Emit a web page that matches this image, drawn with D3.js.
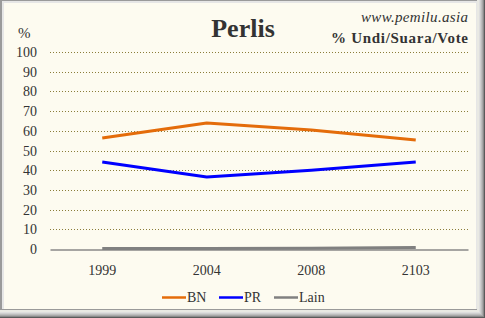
<!DOCTYPE html>
<html>
<head>
<meta charset="utf-8">
<script src="https://cdnjs.cloudflare.com/ajax/libs/d3/7.8.5/d3.min.js"></script>
<style>
  body { margin: 0; background: #ffffff; }
  svg { display: block; font-family: "Liberation Serif", "DejaVu Serif", serif; }
</style>
</head>
<body>
<script>
// chart data
const years = ["1999", "2004", "2008", "2103"];
const bnValues = [56.3, 64.0, 60.4, 55.3];
const prValues = [44.2, 36.6, 40.0, 44.2];
const lainValues = [0.3, 0.3, 0.4, 0.8];
const yTicks = [0, 10, 20, 30, 40, 50, 60, 70, 80, 90, 100];
const seriesNames = ["BN", "PR", "Lain"];
const seriesColors = ["#E46C0A", "#0000FF", "#808080"];

const W = 485, H = 318;
const margin = {top: 52, right: 17, bottom: 69, left: 50};
const width = W - margin.left - margin.right;
const height = H - margin.top - margin.bottom;

const svg = d3.select("body").append("svg")
  .attr("width", W)
  .attr("height", H);

// frame with bevel / shadow
svg.append("rect").attr("x", 0).attr("y", 0).attr("width", W).attr("height", H).attr("fill", "#f4f4f4");
const shadow = [["#5a5a5a", 0], ["#8a8a8a", 1], ["#a8a8a8", 2], ["#bdbdbd", 3], ["#cfcfcf", 4], ["#dedede", 5], ["#e9e9e3", 6]];
for (const [c, i] of shadow) {
  svg.append("rect")
    .attr("x", 0).attr("y", 0)
    .attr("width", W - i).attr("height", H - i)
    .attr("fill", c);
}
svg.append("rect").attr("x", 0).attr("y", 0).attr("width", W - 8).attr("height", H - 8).attr("fill", "#9a9a9a");
svg.append("rect").attr("x", 2).attr("y", 1).attr("width", W - 10).attr("height", H - 10).attr("fill", "#e6e6e6");
svg.append("rect").attr("x", 4).attr("y", 3).attr("width", W - 13).attr("height", H - 12).attr("fill", "#FDFBF0");

const g = svg.append("g")
  .attr("transform", "translate(" + margin.left + "," + margin.top + ")");

const x = d3.scaleBand().domain(years).range([0, width]);
const y = d3.scaleLinear().domain([0, 100]).range([height, 0]);

// grid lines
g.selectAll(".grid")
  .data(yTicks.filter(d => d > 0))
  .enter().append("line")
  .attr("x1", 0).attr("x2", width)
  .attr("y1", d => Math.round(y(d)) + 0.5).attr("y2", d => Math.round(y(d)) + 0.5)
  .attr("stroke", "#8B7D3A")
  .attr("stroke-width", 1)
  .attr("stroke-dasharray", "1,2");

// y tick labels
g.selectAll(".ylab")
  .data(yTicks)
  .enter().append("text")
  .attr("x", -13)
  .attr("y", d => y(d) + 5)
  .attr("text-anchor", "end")
  .attr("font-size", 14)
  .attr("fill", "#333")
  .text(d => d);

// x axis
const xAxis = d3.axisBottom(x).tickSize(0).tickPadding(16);
const ax = g.append("g")
  .attr("transform", "translate(0," + (Math.round(height) + 0.5) + ")")
  .call(xAxis);
ax.select(".domain").attr("stroke", "#888").attr("stroke-width", 1.5);
ax.selectAll("text")
  .attr("font-family", "Liberation Serif, DejaVu Serif, serif")
  .attr("font-size", 14)
  .attr("fill", "#333");

// series lines
const allSeries = [bnValues, prValues, lainValues];
const line = d3.line()
  .x((d, i) => x(years[i]) + x.bandwidth() / 2)
  .y(d => y(d));

allSeries.forEach((vals, k) => {
  g.append("path")
    .datum(vals)
    .attr("fill", "none")
    .attr("stroke", seriesColors[k])
    .attr("stroke-width", 3)
    .attr("stroke-linejoin", "round")
    .attr("d", line);
});

// titles
svg.append("text")
  .attr("x", 243).attr("y", 37)
  .attr("text-anchor", "middle")
  .attr("font-size", 26)
  .attr("font-weight", "bold")
  .attr("fill", "#333")
  .text("Perlis");

svg.append("text")
  .attr("x", 468).attr("y", 22)
  .attr("text-anchor", "end")
  .attr("font-size", 15)
  .attr("font-style", "italic")
  .attr("fill", "#333")
  .attr("textLength", 107)
  .attr("lengthAdjust", "spacing")
  .text("www.pemilu.asia");

svg.append("text")
  .attr("x", 468).attr("y", 43)
  .attr("text-anchor", "end")
  .attr("font-size", 15)
  .attr("font-weight", "bold")
  .attr("fill", "#333")
  .attr("textLength", 137)
  .attr("lengthAdjust", "spacing")
  .text("% Undi/Suara/Vote");

svg.append("text")
  .attr("x", 18).attr("y", 38)
  .attr("font-size", 15)
  .attr("fill", "#333")
  .text("%");

// legend
const legendPos = [162, 219, 274];
const legend = svg.append("g");
seriesNames.forEach((name, k) => {
  legend.append("line")
    .attr("x1", legendPos[k]).attr("x2", legendPos[k] + 24)
    .attr("y1", 297.5).attr("y2", 297.5)
    .attr("stroke", seriesColors[k])
    .attr("stroke-width", 2.5);
  legend.append("text")
    .attr("x", legendPos[k] + 25).attr("y", 302)
    .attr("font-size", 14)
    .attr("fill", "#333")
    .text(name);
});
</script>
</body>
</html>
